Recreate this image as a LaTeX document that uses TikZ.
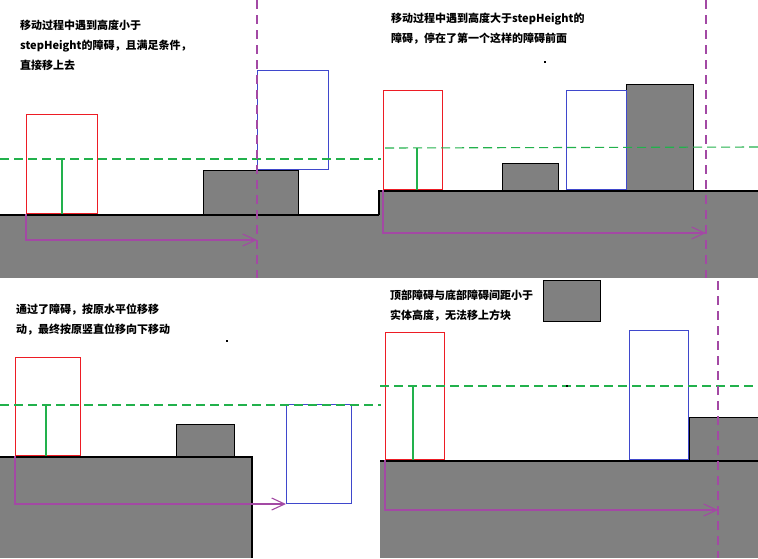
\documentclass[tikz,border=0pt]{standalone}
\usepackage{fontspec}
\newfontfamily\cjkfont{Noto Sans CJK SC}
\usetikzlibrary{arrows.meta}
\definecolor{mvred}{RGB}{237,28,36}
\definecolor{mvblue}{RGB}{63,72,204}
\definecolor{mvgreen}{RGB}{34,177,76}
\definecolor{mvpurple}{RGB}{163,73,164}
\definecolor{terrain}{RGB}{128,128,128}

\begin{document}
\begin{tikzpicture}[x=1pt, y=-1pt,
  note/.style={align=left, inner sep=0pt, anchor=west, font=\cjkfont\bfseries\fontsize{11}{20}\selectfont},
  actor/.style={draw=#1, line width=1.1pt, inner sep=0pt, anchor=south west},
  block/.style={fill=terrain, draw=black, line width=1.1pt, inner sep=0pt, anchor=south west},
  edge/.style={draw=black, line width=1.4pt},
  hguide/.style={draw=mvgreen, line width=1.1pt, dash pattern=on 9pt off 5pt},
  vguide/.style={draw=mvpurple, line width=1.1pt, dash pattern=on 9pt off 6pt},
  move/.style={draw=mvpurple, line width=1.1pt, -{Straight Barb[length=13pt, width=12pt]}},
  offset/.style={draw=mvgreen, line width=1.1pt}]
\clip (0,0) rectangle (758,558);
\fill[white] (0,0) rectangle (758,558);

% ground
\fill[terrain] (0,215) rectangle (379,278);
\draw[edge] (0,215) -- (379,215);
\fill[terrain] (379,191) rectangle (758,278);
\draw[edge] (379,215) -- (379,191) -- (758,191);
\fill[terrain] (0,457) rectangle (252,558);
\draw[edge] (0,457) -- (252,457) -- (252,558);
\fill[terrain] (380,461) rectangle (758,558);
\draw[edge] (380,461) -- (758,461);

% panel 1
\node[note] (t1) at (20,45) {移动过程中遇到高度小于\\stepHeight的障碍，且满足条件，\\直接移上去};
\node[block, minimum width=95pt, minimum height=44pt] (o1) at (203,215) {};
\node[actor=mvred, minimum width=71pt, minimum height=99pt] (r1) at (26,214) {};
\node[actor=mvblue, minimum width=71pt, minimum height=99pt] (b1) at (257,170) {};
\draw[hguide] (0,159) -- (381,159);
\draw[offset] (62,159) -- (62,214);
\coordinate (e1) at (257,240);
\draw[vguide] (257,0) -- (257,278);
\draw[move] (r1.south west) |- (e1);

% panel 2
\node[note] (t2) at (391,29) {移动过程中遇到高度大于stepHeight的\\障碍，停在了第一个这样的障碍前面};
\fill (544,61) rectangle +(2,2);
\node[block, minimum width=56pt, minimum height=27pt] (o2) at (502,191) {};
\node[block, minimum width=67pt, minimum height=106pt] (o3) at (626,191) {};
\node[actor=mvred, minimum width=59pt, minimum height=99pt] (r2) at (383,190) {};
\node[actor=mvblue, minimum width=60pt, minimum height=99pt] (b2) at (566,190) {};
\draw[hguide] (385,148) -- (758,147);
\draw[offset] (417,148) -- (417,190);
\coordinate (e2) at (706,233);
\draw[vguide] (706,0) -- (706,278);
\draw[move] (r2.south west) |- (e2);

% panel 3
\node[note] (t3) at (16,320) {通过了障碍，按原水平位移移\\动，最终按原竖直位移向下移动};
\fill (226,340) rectangle +(2,2);
\node[block, minimum width=58pt, minimum height=32pt] (o4) at (176,457) {};
\node[actor=mvred, minimum width=65pt, minimum height=98pt] (r3) at (15,456) {};
\node[actor=mvblue, minimum width=65pt, minimum height=99pt] (b3) at (286,504) {};
\draw[hguide] (0,405) -- (381,405);
\draw[offset] (46,405) -- (46,456);
\draw[move] (r3.south west) |- (b3.south west);

% panel 4
\node[note] (t4) at (390,306) {顶部障碍与底部障碍间距小于\\实体高度，无法移上方块};
\node[block, minimum width=57pt, minimum height=41pt] (o5) at (543,322) {};
\node[block, minimum width=80pt, minimum height=43pt] (o6) at (689,461) {};
\node[actor=mvred, minimum width=59pt, minimum height=127pt] (r4) at (385,460) {};
\node[actor=mvblue, minimum width=59pt, minimum height=129pt] (b4) at (629,460) {};
\draw[hguide] (380,386) -- (758,386);
\fill (566,385) rectangle +(2,2);
\draw[offset] (413,386) -- (413,460);
\coordinate (e4) at (718,510);
\draw[vguide] (718,281) -- (718,558);
\draw[move] (r4.south west) |- (e4);
\end{tikzpicture}
\end{document}
